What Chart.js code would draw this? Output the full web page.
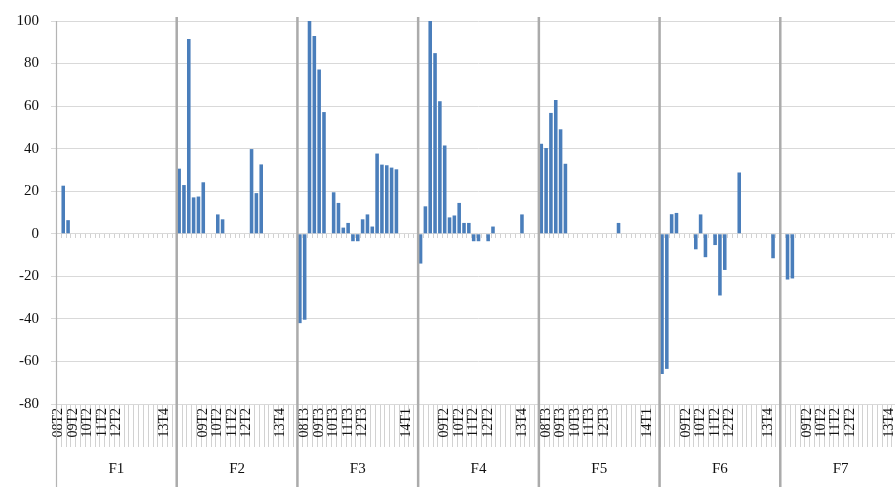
<!DOCTYPE html>
<html>
<head>
<meta charset="utf-8">
<script src="https://cdn.jsdelivr.net/npm/chart.js@4.4.1/dist/chart.umd.min.js"></script>
<style>
  html, body { margin: 0; padding: 0; background: #fff; overflow: hidden; width: 895px; height: 487px; }
  canvas { display: block; }
</style>
</head>
<body>
<canvas id="chart" width="901" height="487"></canvas>
<script>
// Groups shown on the second level of the category axis
const groups = ['F1', 'F2', 'F3', 'F4', 'F5', 'F6', 'F7'];

const _ = null; // no bar in this period

// Quarterly values per group (25 periods each)
const f1Values = [_, 22.6, 6.4, _, _, _, _, _, _, _, _, _, _, _, _, _, _, _, _, _, _, _, _, _, _];
const f2Values = [30.6, 22.9, 91.5, 17.1, 17.5, 24.2, _, _, 9.1, 6.8, _, _, _, _, _, 39.8, 19.1, 32.6, _, _, _, _, _, _, _];
const f3Values = [-42, -40.4, 100, 92.9, 77.2, 57.2, _, 19.5, 14.5, 2.9, 5.1, -3.5, -3.5, 6.8, 9.1, 3.4, 37.7, 32.5, 32.2, 31.1, 30.3, _, _, _, _];
const f4Values = [-14, 12.9, 100, 84.9, 62.3, 41.5, 7.7, 8.6, 14.5, 5.1, 5.1, -3.5, -3.5, _, -3.5, 3.4, _, _, _, _, _, 9.1, _, _, _];
const f5Values = [42.3, 40.3, 56.8, 62.9, 49.1, 32.9, _, _, _, _, _, _, _, _, _, _, 5.1, _, _, _, _, _, _, _, _];
const f6Values = [-65.9, -63.5, 9.2, 9.8, _, _, _, -7.3, 9.1, -11, _, -5.3, -29, -17, _, _, 28.8, _, _, _, _, _, _, -11.5, _];
const f7Values = [_, -21.5, -21, _, _, _, _, _, _, _, _, _, _, _, _, _, _, _, _, _, _, _, _, _, _];

// Period labels per group (blank where the axis shows no text)
const f1Periods = ['08T2', '', '', '09T2', '', '', '10T2', '', '', '11T2', '', '', '12T2', '', '', '', '', '', '', '', '', '', '13T4', '', ''];
const f2Periods = ['', '', '', '', '', '09T2', '', '', '10T2', '', '', '11T2', '', '', '12T2', '', '', '', '', '', '', '13T4', '', '', ''];
const f3Periods = ['', '08T3', '', '', '09T3', '', '', '10T3', '', '', '11T3', '', '', '12T3', '', '', '', '', '', '', '', '', '14T1', '', ''];
const f4Periods = ['', '', '', '', '', '09T2', '', '', '10T2', '', '', '11T2', '', '', '12T2', '', '', '', '', '', '', '13T4', '', '', ''];
const f5Periods = ['', '08T3', '', '', '09T3', '', '', '10T3', '', '', '11T3', '', '', '12T3', '', '', '', '', '', '', '', '', '14T1', '', ''];
const f6Periods = ['', '', '', '', '', '09T2', '', '', '10T2', '', '', '11T2', '', '', '12T2', '', '', '', '', '', '', '', '13T4', '', ''];
const f7Periods = ['', '', '', '', '', '09T2', '', '', '10T2', '', '', '11T2', '', '', '12T2', '', '', '', '', '', '', '', '13T4', '', ''];

const yTicks = [-80, -60, -40, -20, 0, 20, 40, 60, 80, 100];

const valueSets = [f1Values, f2Values, f3Values, f4Values, f5Values, f6Values, f7Values];
const periodSets = [f1Periods, f2Periods, f3Periods, f4Periods, f5Periods, f6Periods, f7Periods];

const periodLabels = periodSets.flat();
const values = valueSets.flat();
const perGroup = f1Periods.length;

const FONT = 'Liberation Serif';
const PERIOD_ROW = 43;   // height of the period label row
const GROUP_ROW = 40;    // height of the group label row

// Axis furniture: period ticks, label bands and group separators
const axisFrame = {
  id: 'axisFrame',
  beforeDraw(chart) {
    const { ctx, chartArea, scales: { x, y } } = chart;
    const n = x.ticks.length;
    const half = (x.getPixelForValue(1) - x.getPixelForValue(0)) / 2;
    const zeroY = Math.round(y.getPixelForValue(0));
    ctx.save();
    ctx.strokeStyle = '#d2d2d2';
    ctx.lineWidth = 1;
    ctx.beginPath();
    for (let i = 0; i <= n; i++) {
      const px = Math.round(x.getPixelForValue(i) - half) + 0.5;
      ctx.moveTo(px, zeroY);
      ctx.lineTo(px, zeroY + 4);
      ctx.moveTo(px, chartArea.bottom);
      ctx.lineTo(px, chartArea.bottom + PERIOD_ROW);
    }
    ctx.stroke();
    ctx.restore();
  },
  afterDraw(chart) {
    const { ctx, chartArea, scales: { x } } = chart;
    const half = (x.getPixelForValue(1) - x.getPixelForValue(0)) / 2;
    const bottom = chart.height;
    ctx.save();
    // left edge of the plot and of both label rows
    ctx.strokeStyle = '#b4b4b4';
    ctx.lineWidth = 1.2;
    ctx.beginPath();
    ctx.moveTo(chartArea.left + 0.5, chartArea.top);
    ctx.lineTo(chartArea.left + 0.5, bottom);
    ctx.stroke();
    // separators between groups
    ctx.strokeStyle = '#ababab';
    ctx.lineWidth = 2.5;
    ctx.beginPath();
    for (let g = 1; g < groups.length; g++) {
      const px = x.getPixelForValue(g * perGroup) - half;
      ctx.moveTo(px, chartArea.top - 4);
      ctx.lineTo(px, bottom);
    }
    ctx.stroke();
    ctx.restore();
  }
};

new Chart(document.getElementById('chart'), {
  type: 'bar',
  data: {
    labels: periodLabels,
    datasets: [{
      data: values,
      backgroundColor: '#4a7ebb',
      borderWidth: 0,
      categoryPercentage: 1,
      barPercentage: 0.74
    }]
  },
  options: {
    responsive: false,
    animation: false,
    events: [],
    layout: { padding: { top: 14, left: 0, right: 0, bottom: 0 } },
    plugins: { legend: { display: false }, tooltip: { enabled: false } },
    scales: {
      x: {
        type: 'category',
        position: 'bottom',
        offset: true,
        grid: { display: false, drawTicks: false },
        border: { display: false },
        ticks: {
          autoSkip: false,
          minRotation: 90,
          maxRotation: 90,
          padding: 4,
          color: '#111',
          font: { family: FONT, size: 14 }
        },
        afterFit(scale) {
          scale.height = PERIOD_ROW;
          scale.paddingLeft = 0;
          scale.paddingRight = 0;
        }
      },
      groups: {
        type: 'category',
        position: 'bottom',
        labels: groups,
        offset: true,
        grid: { display: false, drawTicks: false },
        border: { display: false },
        ticks: {
          padding: 13,
          color: '#111',
          font: { family: FONT, size: 15 }
        },
        afterFit(scale) {
          scale.height = GROUP_ROW;
          scale.paddingLeft = 0;
          scale.paddingRight = 0;
        }
      },
      y: {
        min: yTicks[0],
        max: yTicks[yTicks.length - 1],
        afterBuildTicks(scale) {
          scale.ticks = yTicks.map(v => ({ value: v }));
        },
        grid: { color: '#d9d9d9', lineWidth: 1, tickLength: 5, drawTicks: true },
        border: { display: false },
        ticks: {
          padding: 12,
          color: '#111',
          font: { family: FONT, size: 15 }
        },
        afterFit(scale) {
          scale.width = 56;
        }
      }
    }
  },
  plugins: [axisFrame]
});
</script>
</body>
</html>
